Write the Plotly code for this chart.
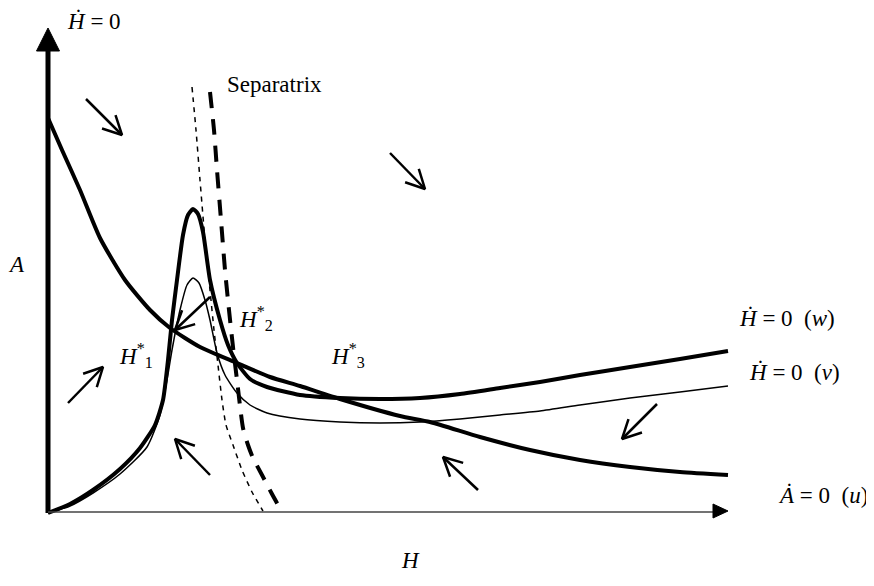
import math
import plotly.graph_objects as go

# ---- data (schematic phase diagram, pixel-like units: H to the right, A upward) ----
# Each curve: H values and A values
u_H = [0, 14, 32, 52, 77, 102, 122, 152, 189, 222, 252, 292, 352, 382, 432, 482, 532, 582, 632, 680]
u_A = [395, 363, 323, 275, 233, 203, 185, 166, 150, 136, 127, 114, 97, 91, 76, 63, 53, 46, 41, 38]

w_H = [0, 22, 45, 72, 92, 107, 115, 120, 124, 129, 135, 140, 145, 150, 155, 162, 172, 180, 189, 202, 219,
       252, 292, 332, 372, 412, 452, 492, 532, 582, 632, 680]
w_A = [0, 9, 23, 44, 65, 88, 113, 153, 193, 233, 278, 298, 304, 299, 281, 233, 193, 168, 150, 134, 126,
       118, 115, 114, 115, 119, 125, 131, 138, 146, 154, 162]

v_H = [0, 22, 45, 72, 99, 112, 119, 124, 132, 139, 145, 151, 157, 162, 169, 177, 189, 202, 219, 252, 292,
       332, 372, 412, 452, 492, 532, 582, 632, 680]
v_A = [0, 7, 20, 39, 66, 98, 133, 163, 203, 228, 235, 230, 213, 193, 160, 138, 120, 108, 100, 94, 91,
       90, 91, 94, 98, 102, 108, 115, 121, 127]

sep_thin_H = [144, 148, 152, 157, 162, 166, 170, 174, 178, 185, 194, 204, 215]
sep_thin_A = [426, 383, 333, 273, 223, 183, 148, 113, 88, 68, 43, 21, 2]

sep_thick_H = [162, 166, 169, 173, 177, 181, 185, 189, 195, 200, 205, 214, 224, 234]
sep_thick_A = [421, 383, 343, 293, 243, 203, 166, 133, 85, 68, 55, 38, 19, 1]

# direction-field arrows: (H_start, A_start, H_end, A_end)
field_arrows = [
    (38, 414, 74, 378),
    (342, 360, 377, 324),
    (20, 110, 55, 146),
    (162, 38, 127, 74),
    (609, 109, 574, 74),
    (430, 23, 395, 56),
    (162, 216, 127, 183),
]

# labels: (text, H, A, xanchor)
labels = [
    ("<i>Ḣ</i> = 0", 17, 492, "left"),
    ("Separatrix", 177, 429, "left"),
    ("<i>A</i>", -32, 249, "center"),
    ("<i>H</i>", 362, -47, "center"),
    ("<i>H</i><sup>*</sup><sub>1</sub>", 88, 158, "center"),
    ("<i>H</i><sup>*</sup><sub>2</sub>", 208, 195, "center"),
    ("<i>H</i><sup>*</sup><sub>3</sub>", 300, 158, "center"),
    ("<i>Ḣ</i> = 0  (<i>w</i>)", 789, 195, "right"),
    ("<i>Ḣ</i> = 0  (<i>v</i>)", 794, 141, "right"),
    ("<i>Ȧ</i> = 0  (<i>u</i>)", 822, 18, "right"),
]

# axis extents
x_axis_end = 680
y_axis_end = 485

FONT = "Liberation Serif"

fig = go.Figure()

def add_line(xs, ys, width, dash="solid", color="black"):
    fig.add_trace(go.Scatter(x=xs, y=ys, mode="lines",
                             line=dict(color=color, width=width, dash=dash, shape="spline", smoothing=0.6),
                             hoverinfo="skip", showlegend=False))

# curves
add_line(u_H, u_A, 4)
add_line(w_H, w_A, 4)
add_line(v_H, v_A, 1.5)
add_line(sep_thin_H, sep_thin_A, 1.5, dash="5px,5px")
add_line(sep_thick_H, sep_thick_A, 4, dash="16px,11px")

# axes
fig.add_trace(go.Scatter(x=[0, 0], y=[0, y_axis_end - 20], mode="lines",
                         line=dict(color="black", width=5), hoverinfo="skip", showlegend=False))
fig.add_trace(go.Scatter(x=[0, x_axis_end - 14], y=[1, 1], mode="lines",
                         line=dict(color="#444", width=1.5), hoverinfo="skip", showlegend=False))
# axis arrowheads (filled triangles)
def tri(tx, ty, dx, dy, length, half_w):
    bx, by = tx - dx * length, ty - dy * length
    px, py = -dy, dx
    return ([tx, bx + px * half_w, bx - px * half_w, tx],
            [ty, by + py * half_w, by - py * half_w, ty])

for (tx, ty, dx, dy, L, hw) in [(0, y_axis_end, 0, 1, 23, 11.5), (x_axis_end, 2, 1, 0, 15, 7)]:
    xs, ys = tri(tx, ty, dx, dy, L, hw)
    fig.add_trace(go.Scatter(x=xs, y=ys, mode="lines", fill="toself", fillcolor="black",
                             line=dict(color="black", width=1), hoverinfo="skip", showlegend=False))

# field arrows with open V heads
ax_x, ax_y = [], []
head_len = 21
half_ang = math.radians(27)
for (x0, y0, x1, y1) in field_arrows:
    ang = math.atan2(y0 - y1, x0 - x1)
    h1 = (x1 + head_len * math.cos(ang + half_ang), y1 + head_len * math.sin(ang + half_ang))
    h2 = (x1 + head_len * math.cos(ang - half_ang), y1 + head_len * math.sin(ang - half_ang))
    ax_x += [x0, x1, None, h1[0], x1, h2[0], None]
    ax_y += [y0, y1, None, h1[1], y1, h2[1], None]
fig.add_trace(go.Scatter(x=ax_x, y=ax_y, mode="lines",
                         line=dict(color="black", width=2.5), hoverinfo="skip", showlegend=False))

for (txt, x, y, xa) in labels:
    fig.add_annotation(x=x, y=y, text=txt, showarrow=False, xanchor=xa, yanchor="middle",
                       font=dict(family=FONT, size=23, color="black"))

# the page body has an 8px margin, so the ranges are offset to keep the drawing in place
fig.update_layout(
    width=874, height=586,
    margin=dict(l=0, r=0, t=0, b=0),
    paper_bgcolor="white", plot_bgcolor="white",
    xaxis=dict(range=[-40, 834], visible=False, fixedrange=True),
    yaxis=dict(range=[-81, 505], visible=False, fixedrange=True),
    showlegend=False,
)

fig.write_html("out.html")
